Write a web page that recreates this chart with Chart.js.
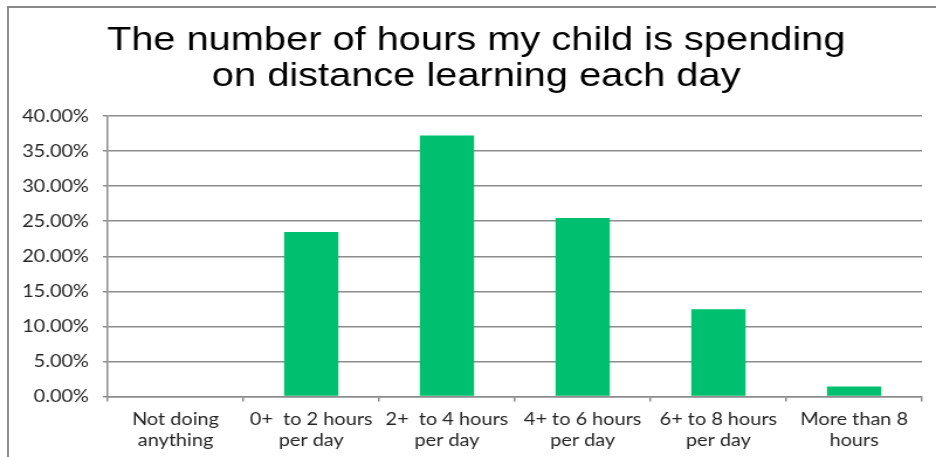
<!DOCTYPE html>
<html>
<head>
<meta charset="utf-8">
<script src="https://cdn.jsdelivr.net/npm/chart.js@4/dist/chart.umd.min.js"></script>
<style>
  html, body { margin: 0; padding: 0; background: #fff; }
  #wrap { position: relative; width: 936px; height: 457px; overflow: hidden; background: #fff; }
  #frame { position: absolute; left: 7px; top: 6px; right: -10px; bottom: -10px;
           border-left: 2px solid #8a8a8a; border-top: 2px solid #8a8a8a; pointer-events: none; }
  #c { position: absolute; left: 0; top: 0; width: 936px; height: 457px; }
</style>
</head>
<body>
<div id="wrap">
  <canvas id="c" width="800" height="457" style="width:936px;height:457px"></canvas>
  <div id="frame"></div>
</div>
<script>
const titleLines = ['The number of hours my child is spending', 'on distance learning each day'];
const categories = [
  ['Not doing', 'anything'],
  ['0+  to 2 hours', 'per day'],
  ['2+  to 4 hours', 'per day'],
  ['4+ to 6 hours', 'per day'],
  ['6+ to 8 hours', 'per day'],
  ['More than 8', 'hours']
];
const percentValues = [0, 23.45, 37.24, 25.46, 12.43, 1.42];
const yTicks = [0, 5, 10, 15, 20, 25, 30, 35, 40];

const gridColor = '#8c8c8c';

const shiftTitle = {
  id: 'shiftTitle',
  afterLayout(chart) {
    if (chart.titleBlock) { chart.titleBlock.left += 26; }
  }
};

new Chart(document.getElementById('c'), {
  type: 'bar',
  data: {
    labels: categories,
    datasets: [{
      data: percentValues,
      backgroundColor: '#00bf6f',
      borderWidth: 0,
      categoryPercentage: 1.0,
      barPercentage: 0.4
    }]
  },
  plugins: [shiftTitle],
  options: {
    responsive: false,
    devicePixelRatio: 1,
    animation: false,
    layout: { padding: { left: 0, right: 12, top: 0, bottom: -1 } },
    plugins: {
      legend: { display: false },
      tooltip: { enabled: false },
      title: {
        display: true,
        text: titleLines,
        color: '#000000',
        font: { family: '"Liberation Sans", Arial, sans-serif', size: 34, weight: 'normal', lineHeight: 1.06 },
        padding: { top: 23, bottom: 21 }
      }
    },
    scales: {
      x: {
        grid: { display: true, drawOnChartArea: false, drawTicks: true, tickLength: 5, color: gridColor, lineWidth: 1.5, offset: true },
        border: { display: true, color: gridColor, width: 1.5 },
        ticks: {
          color: '#262626',
          font: { family: 'Lato, "Open Sans", sans-serif', size: 17, lineHeight: 1.25 },
          padding: 7,
          maxRotation: 0,
          autoSkip: false
        }
      },
      y: {
        min: 0,
        max: 40,
        afterFit: (scale) => { scale.width = 92; },
        afterBuildTicks: (scale) => { scale.ticks = yTicks.map(v => ({ value: v })); },
        grid: { color: gridColor, lineWidth: 1.5, drawTicks: true, tickLength: 4 },
        border: { display: true, color: gridColor, width: 1.5 },
        ticks: {
          color: '#262626',
          font: { family: 'Lato, "Open Sans", sans-serif', size: 17 },
          padding: 12,
          callback: (v) => Number(v).toFixed(2) + '%'
        }
      }
    }
  }
});
</script>
</body>
</html>
